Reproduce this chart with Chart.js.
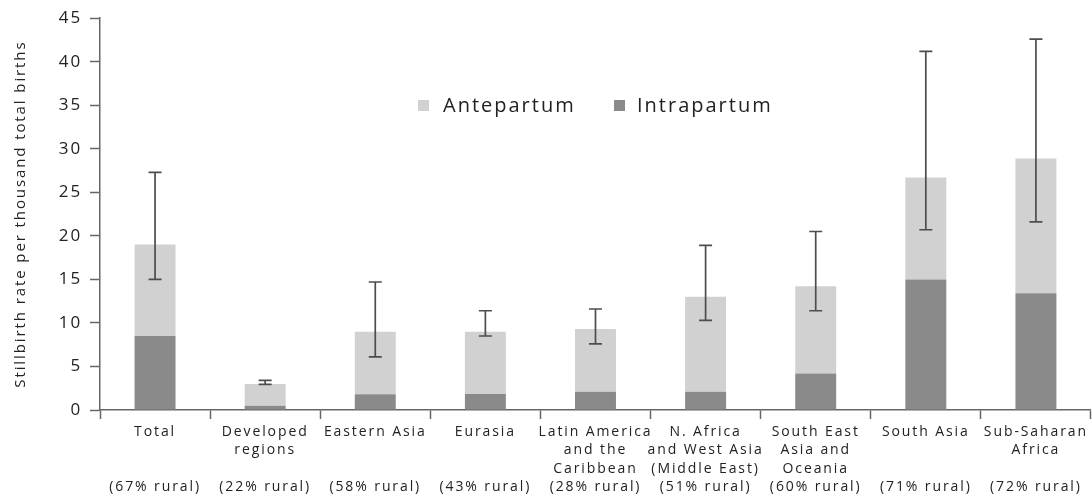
<!DOCTYPE html>
<html>
<head>
<meta charset="utf-8">
<script src="https://cdn.jsdelivr.net/npm/chart.js@4"></script>
<style>
  html, body { margin: 0; padding: 0; background: #fff; }
  #wrap { width: 1092px; height: 497px; }
</style>
</head>
<body>
<div id="wrap"><canvas id="chart"></canvas></div>
<script>
// Regiones (etiquetas multilínea, la última línea siempre es el % rural)
const categories = [
  ['Total', '', '', '(67% rural)'],
  ['Developed', 'regions', '', '(22% rural)'],
  ['Eastern Asia', '', '', '(58% rural)'],
  ['Eurasia', '', '', '(43% rural)'],
  ['Latin America', 'and the', 'Caribbean', '(28% rural)'],
  ['N. Africa', 'and West Asia', '(Middle East)', '(51% rural)'],
  ['South East', 'Asia and', 'Oceania', '(60% rural)'],
  ['South Asia', '', '', '(71% rural)'],
  ['Sub-Saharan', 'Africa', '', '(72% rural)'],
];

// Tasas por mil nacimientos (lectura aproximada del gráfico)
const intrapartum = [8.5, 0.5, 1.8, 1.85, 2.1, 2.1, 4.2, 15.0, 13.4];
const antepartum = [10.5, 2.5, 7.2, 7.15, 7.2, 10.9, 10.0, 11.7, 15.5];

// Intervalo de incertidumbre del total
const errLow = [15.0, 2.95, 6.1, 8.5, 7.6, 10.3, 11.4, 20.7, 21.6];
const errHigh = [27.3, 3.4, 14.7, 11.4, 11.6, 18.9, 20.5, 41.2, 42.6];

const LIGHT = '#d1d1d1';
const DARK = '#8a8a8a';
const TEXT = '#222222';
const AXIS = '#666666';
const FONT = "'Open Sans', sans-serif";

/** Espaciado de letras para imitar la tipografía original. */
const letterSpacing = {
  id: 'letterSpacing',
  beforeLayout(chart) { chart.ctx.letterSpacing = '1.9px'; },
  beforeDraw(chart) { chart.ctx.letterSpacing = '1.9px'; },
};

/** Barras de error sobre el total apilado. */
const errorBars = {
  id: 'errorBars',
  afterDatasetsDraw(chart) {
    const { ctx, scales: { y } } = chart;
    const meta = chart.getDatasetMeta(1);
    ctx.save();
    ctx.strokeStyle = '#4d4d4d';
    ctx.lineWidth = 1.7;
    meta.data.forEach((bar, i) => {
      const x = bar.x;
      const yl = y.getPixelForValue(errLow[i]);
      const yh = y.getPixelForValue(errHigh[i]);
      ctx.beginPath();
      ctx.moveTo(x, yl); ctx.lineTo(x, yh);
      ctx.moveTo(x - 6.5, yl); ctx.lineTo(x + 6.5, yl);
      ctx.moveTo(x - 6.5, yh); ctx.lineTo(x + 6.5, yh);
      ctx.stroke();
    });
    ctx.restore();
  },
};

/** Leyenda dentro del área del gráfico. */
const innerLegend = {
  id: 'innerLegend',
  afterDraw(chart) {
    const { ctx } = chart;
    const items = [
      { ds: 1, sx: 418, tx: 443 },
      { ds: 0, sx: 614, tx: 637 },
    ];
    ctx.save();
    ctx.letterSpacing = '2px';
    ctx.font = `20px ${FONT}`;
    ctx.textBaseline = 'middle';
    ctx.textAlign = 'left';
    items.forEach((it) => {
      const ds = chart.data.datasets[it.ds];
      ctx.fillStyle = ds.backgroundColor;
      ctx.fillRect(it.sx, 100, 11, 11);
      ctx.fillStyle = TEXT;
      ctx.fillText(ds.label, it.tx, 106);
    });
    ctx.restore();
  },
};

new Chart(document.getElementById('chart'), {
  type: 'bar',
  data: {
    labels: categories,
    datasets: [
      { label: 'Intrapartum', data: intrapartum, backgroundColor: DARK },
      { label: 'Antepartum', data: antepartum, backgroundColor: LIGHT },
    ],
  },
  options: {
    responsive: true,
    maintainAspectRatio: false,
    animation: false,
    devicePixelRatio: 1,
    barPercentage: 0.372,
    categoryPercentage: 1,
    layout: { padding: { top: 9, right: 0, left: 0, bottom: 0 } },
    plugins: {
      legend: { display: false },
      tooltip: { enabled: false },
    },
    scales: {
      x: {
        stacked: true,
        grid: { offset: true, drawOnChartArea: false, tickLength: 9, tickColor: AXIS, tickWidth: 1.5 },
        border: { color: AXIS, width: 1.5 },
        ticks: {
          color: TEXT,
          font: { family: FONT, size: 14, lineHeight: 1.31 },
          padding: 4,
          maxRotation: 0,
          autoSkip: false,
        },
        afterFit: (s) => { s.height = 87; },
      },
      y: {
        stacked: true,
        min: 0,
        max: 45,
        grid: { drawOnChartArea: false, tickLength: 10, tickColor: AXIS, tickWidth: 1.5 },
        border: { color: AXIS, width: 1.5 },
        ticks: { stepSize: 5, color: TEXT, font: { family: FONT, size: 17 }, padding: 8 },
        title: {
          display: true,
          text: 'Stillbirth rate per thousand total births',
          color: TEXT,
          font: { family: FONT, size: 15 },
          padding: { top: 12, bottom: 0 },
        },
        afterFit: (s) => { s.width = 100; },
      },
    },
  },
  plugins: [letterSpacing, errorBars, innerLegend],
});
</script>
</body>
</html>
